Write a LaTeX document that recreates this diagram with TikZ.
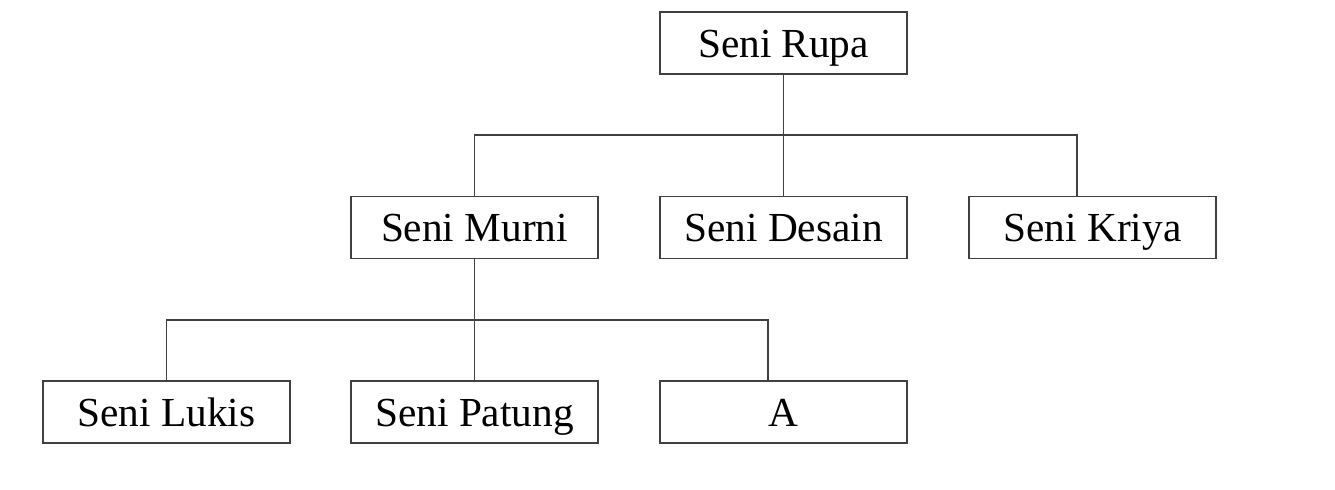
\documentclass[tikz,border=0pt]{standalone}
\usepackage{fontspec}
\setmainfont{Liberation Serif}
\usetikzlibrary{positioning,calc}

\begin{document}
\begin{tikzpicture}[x=0.02cm,y=-0.02cm,
  kotak/.style={rectangle, draw=black!75, line width=0.9pt, fill=white, minimum width=4.94cm, minimum height=1.24cm, inner sep=0pt, text height=16pt, text depth=0pt, font=\fontsize{23.5}{27}\selectfont},
  garis/.style={draw=black!75, line width=0.9pt}]
\useasboundingbox (0,0) rectangle (1335,490);
% tingkat atas
\node [kotak] (rupa) at (783.5,43) {Seni Rupa};
% tingkat kedua
\node [kotak] (murni) at (474.5,227.5) {Seni Murni};
\node [kotak] (desain) at (783.5,227.5) {Seni Desain};
\node [kotak] (kriya) at (1092.5,227.5) {Seni Kriya};
% tingkat ketiga
\node [kotak] (lukis) at (166.5,412) {Seni Lukis};
\node [kotak] (patung) at (474.5,412) {Seni Patung};
\node [kotak] (a) at (783.5,412) {A};
% garis penghubung
\coordinate (atas) at (783.5,135);
\coordinate (kx) at ($(kriya.north)+(-15.5,0)$);
\draw [garis] (rupa.south) -- (atas);
\draw [garis] (murni.north) |- (atas) -| (kx);
\draw [garis] (atas) -- (desain.north);
\coordinate (bawah) at (474.5,320);
\coordinate (ax) at ($(a.north)+(-15.5,0)$);
\draw [garis] (murni.south) -- (bawah);
\draw [garis] (lukis.north) |- (bawah) -| (ax);
\draw [garis] (bawah) -- (patung.north);
\end{tikzpicture}
\end{document}
